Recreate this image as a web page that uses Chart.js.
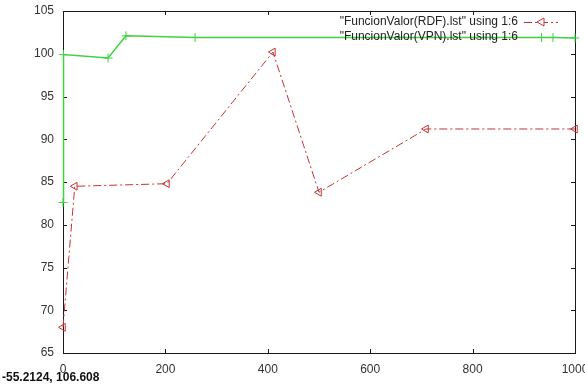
<!DOCTYPE html>
<html>
<head>
<meta charset="utf-8">
<script src="https://cdn.jsdelivr.net/npm/chart.js@4/dist/chart.umd.min.js"></script>
<style>
  html, body { margin: 0; padding: 0; background: #ffffff; }
  #wrap { width: 585px; height: 385px; position: relative; }
</style>
</head>
<body>
<div id="wrap"><canvas id="c" width="585" height="385"></canvas></div>
<script>
// Series read from the two .lst files (column 1 vs column 6)
const rdfX = [0, 23, 203, 410, 500, 709, 1000];
const rdfY = [68.0, 84.5, 84.8, 100.2, 83.8, 91.2, 91.2];

const vpnX = [0, 1, 88, 123, 258, 957, 1000];
const vpnY = [82.6, 99.9, 99.5, 102.1, 101.9, 101.9, 101.85];

const xTicks = [0, 200, 400, 600, 800, 1000];
const yTicks = [65, 70, 75, 80, 85, 90, 95, 100, 105];

const legendLabels = ['"FuncionValor(RDF).lst" using 1:6', '"FuncionValor(VPN).lst" using 1:6'];
const cursorText = '-55.2124, 106.608';

const RED = '#c23434';
const GREEN = '#3fd33f';
const RED_DASH = [8, 3, 2, 3];
const FONT = '"Liberation Sans", Arial, sans-serif';

const toPoints = (xs, ys) => xs.map((x, i) => ({ x: x, y: ys[i] }));

// gnuplot-style frame with inward ticks on all four sides
const framePlugin = {
  id: 'frame',
  beforeDatasetsDraw(chart) {
    const { ctx, chartArea: a, scales } = chart;
    ctx.save();
    ctx.strokeStyle = '#1a1a1a';
    ctx.lineWidth = 1;
    ctx.strokeRect(Math.round(a.left) + 0.5, Math.round(a.top) + 0.5,
                   Math.round(a.right - a.left), Math.round(a.bottom - a.top));
    const len = 4;
    ctx.beginPath();
    xTicks.forEach(v => {
      const px = Math.round(scales.x.getPixelForValue(v)) + 0.5;
      ctx.moveTo(px, a.bottom); ctx.lineTo(px, a.bottom - len);
      ctx.moveTo(px, a.top); ctx.lineTo(px, a.top + len);
    });
    yTicks.forEach(v => {
      const py = Math.round(scales.y.getPixelForValue(v)) + 0.5;
      ctx.moveTo(a.left, py); ctx.lineTo(a.left + len, py);
      ctx.moveTo(a.right, py); ctx.lineTo(a.right - len, py);
    });
    ctx.stroke();
    ctx.restore();
  }
};

// Key in the upper right corner and the cursor read-out under the axis
const keyPlugin = {
  id: 'key',
  afterDraw(chart) {
    const { ctx, chartArea: a } = chart;
    const textRight = a.right - 57;
    const s0 = a.right - 51, s1 = a.right - 17, sm = (s0 + s1) / 2;
    const rows = [a.top + 11, a.top + 26];
    ctx.save();
    ctx.font = '12px ' + FONT;
    ctx.fillStyle = '#222';
    ctx.textAlign = 'right';
    ctx.textBaseline = 'middle';
    legendLabels.forEach((t, i) => ctx.fillText(t, textRight, rows[i]));

    // RDF sample
    ctx.strokeStyle = RED; ctx.lineWidth = 1;
    ctx.setLineDash(RED_DASH);
    ctx.beginPath(); ctx.moveTo(s0, rows[0] + 0.5); ctx.lineTo(s1, rows[0] + 0.5); ctx.stroke();
    ctx.setLineDash([]);
    ctx.beginPath();
    ctx.moveTo(sm - 4, rows[0]); ctx.lineTo(sm + 3, rows[0] - 4); ctx.lineTo(sm + 3, rows[0] + 4); ctx.closePath();
    ctx.fillStyle = '#fff'; ctx.fill(); ctx.stroke();

    // VPN sample
    ctx.strokeStyle = GREEN;
    ctx.beginPath(); ctx.moveTo(s0, rows[1] + 0.5); ctx.lineTo(s1, rows[1] + 0.5); ctx.stroke();
    ctx.beginPath();
    ctx.moveTo(sm + 0.5, rows[1] - 4); ctx.lineTo(sm + 0.5, rows[1] + 5);
    ctx.moveTo(sm - 4, rows[1] + 0.5); ctx.lineTo(sm + 5, rows[1] + 0.5);
    ctx.stroke();

    // cursor coordinates
    ctx.font = 'bold 12px ' + FONT;
    ctx.fillStyle = '#111';
    ctx.textAlign = 'left';
    ctx.fillText(cursorText, 2, 378);
    ctx.restore();
  }
};

new Chart(document.getElementById('c'), {
  type: 'line',
  data: {
    datasets: [
      {
        label: legendLabels[0],
        data: toPoints(rdfX, rdfY),
        borderColor: RED,
        borderWidth: 1,
        borderDash: RED_DASH,
        pointStyle: 'triangle',
        rotation: -90,
        pointRadius: 4.5,
        pointBorderWidth: 1,
        pointBorderColor: RED,
        pointBackgroundColor: 'rgba(255,255,255,0)',
        tension: 0,
        clip: false
      },
      {
        label: legendLabels[1],
        data: toPoints(vpnX, vpnY),
        borderColor: GREEN,
        borderWidth: 1.5,
        pointStyle: 'cross',
        pointRadius: 4.5,
        pointBorderWidth: 1,
        pointBorderColor: GREEN,
        tension: 0,
        clip: false
      }
    ]
  },
  options: {
    responsive: false,
    animation: false,
    events: [],
    layout: { padding: { left: 0, top: 11, right: 10, bottom: 0 } },
    plugins: { legend: { display: false }, tooltip: { enabled: false } },
    scales: {
      x: {
        type: 'linear',
        min: 0, max: 1000,
        grid: { display: false, drawTicks: false },
        border: { display: false },
        ticks: {
          stepSize: 200, maxRotation: 0, autoSkip: false, padding: 9,
          color: '#333', font: { size: 12, family: FONT },
          callback: v => String(v)
        },
        afterFit(s) { s.height = 32; s.paddingLeft = 0; s.paddingRight = 0; }
      },
      y: {
        type: 'linear',
        min: 65, max: 105,
        grid: { display: false, drawTicks: false },
        border: { display: false },
        ticks: {
          stepSize: 5, autoSkip: false, padding: 9,
          color: '#333', font: { size: 12, family: FONT },
          callback: v => String(v)
        },
        afterFit(s) { s.width = 63; s.paddingTop = 0; s.paddingBottom = 0; }
      }
    }
  },
  plugins: [framePlugin, keyPlugin]
});
</script>
</body>
</html>
